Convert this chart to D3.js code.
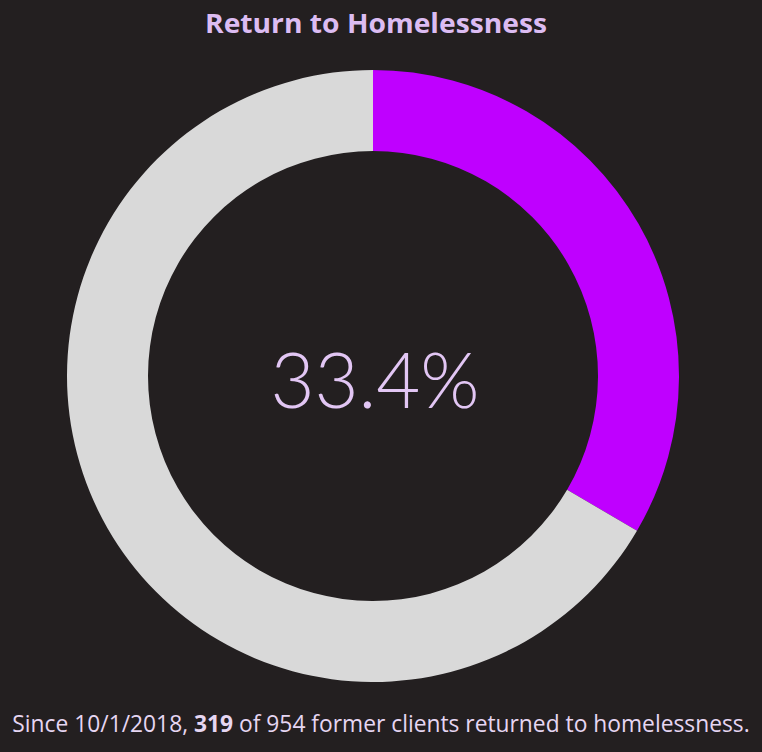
<!DOCTYPE html>
<html>
<head>
<meta charset="utf-8">
<script src="https://cdn.jsdelivr.net/npm/d3@7"></script>
<style>
  html, body { margin: 0; padding: 0; background: #231f20; overflow: hidden; }
  svg { display: block; }
</style>
</head>
<body>
<svg id="chart" width="762" height="752"></svg>
<script>
// Clients returning to homelessness since 10/1/2018
const segments = ["Returned", "Not returned"];
const counts = [319, 954 - 319];
const totalClients = 954;
const sinceDate = "10/1/2018";
const segmentColors = ["#bf00ff", "#d9d9d9"];

const width = 762, height = 752;
const cx = 373, cy = 376;
const outerR = 306, innerR = 225;

const svg = d3.select("#chart");

svg.append("rect")
  .attr("width", width).attr("height", height)
  .attr("fill", "#231f20");

const color = d3.scaleOrdinal().domain(segments).range(segmentColors);

const pie = d3.pie().sort(null).value(d => d.value);
const arc = d3.arc().innerRadius(innerR).outerRadius(outerR);

const data = segments.map((s, i) => ({ name: s, value: counts[i] }));

const g = svg.append("g").attr("transform", `translate(${cx},${cy})`);
g.selectAll("path")
  .data(pie(data))
  .join("path")
  .attr("d", arc)
  .attr("fill", d => color(d.data.name));

// Title
const title = svg.append("text")
  .attr("x", 376).attr("y", 33)
  .attr("text-anchor", "middle")
  .attr("font-family", "'Open Sans', sans-serif")
  .attr("font-weight", 700)
  .attr("font-size", 26)
  .attr("fill", "#dcbcf2")
  .text("Return to Homelessness");
// keep the title to its measured width
title.attr("textLength", 342).attr("lengthAdjust", "spacingAndGlyphs");

// Center percentage
const pct = counts[0] / totalClients * 100;
svg.append("text")
  .attr("x", 375).attr("y", 408)
  .attr("text-anchor", "middle")
  .attr("font-family", "Lato, 'Open Sans', sans-serif")
  .attr("font-weight", 300)
  .attr("font-size", 76)
  .attr("fill", "#e2c6f4")
  .text(d3.format(".1f")(pct) + "%");

// Footnote
const foot = svg.append("text")
  .attr("x", 381).attr("y", 732)
  .attr("text-anchor", "middle")
  .attr("font-family", "'Open Sans', sans-serif")
  .attr("font-size", 22.8)
  .attr("fill", "#e6d6f2");
foot.append("tspan").text(`Since ${sinceDate}, `);
foot.append("tspan").attr("font-weight", 700).text(counts[0]);
foot.append("tspan").text(` of ${totalClients} former clients returned to homelessness.`);
</script>
</body>
</html>
